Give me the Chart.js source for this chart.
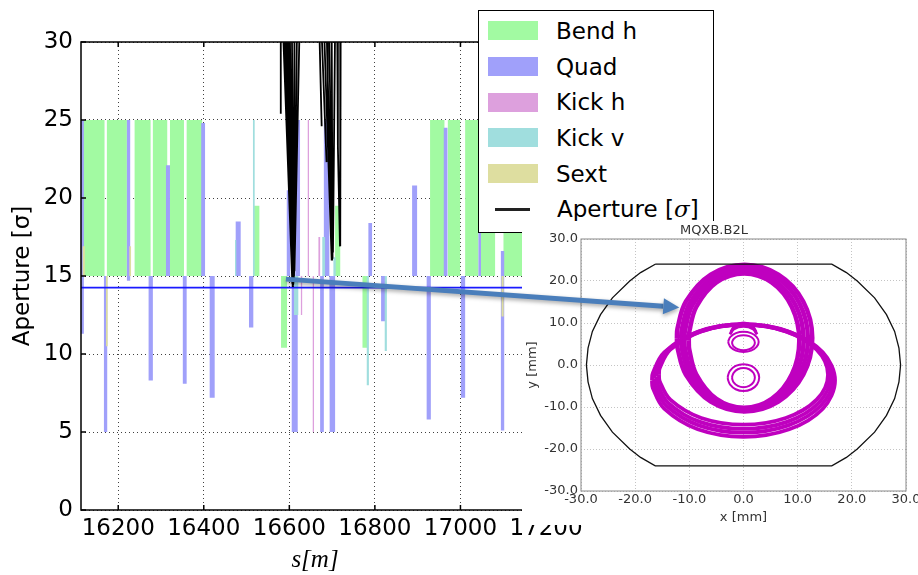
<!DOCTYPE html>
<html>
<head>
<meta charset="utf-8">
<script src="https://cdn.jsdelivr.net/npm/chart.js"></script>
<style>
  html, body { margin: 0; padding: 0; background: #fff; }
  #wrap { position: relative; width: 918px; height: 575px; overflow: hidden; font-family: "DejaVu Sans", sans-serif; }
  #main { position: absolute; left: 0; top: 0; }
  #legend { position: absolute; left: 478px; top: 10px; width: 236px; height: 223px; box-sizing: border-box;
            border: 1.5px solid #000; background: #fff; padding-top: 2px; }
  .row { height: 35.7px; display: flex; align-items: center; font-size: 23px; color: #000; white-space: nowrap; }
  .sw { width: 50px; height: 19px; margin-left: 8.5px; margin-right: 18.5px; flex: none; }
  .ln { width: 35px; height: 2.5px; background: #222; margin-left: 15.5px; margin-right: 27.5px; flex: none; }
  #insetBox { position: absolute; left: 522px; top: 221px; width: 396px; height: 304px; background: #fff; }
  #arrow { position: absolute; left: 0; top: 0; pointer-events: none; }
</style>
</head>
<body>
<div id="wrap">
  <canvas id="main" width="918" height="575"></canvas>
  <div id="legend"></div>
  <div id="insetBox"><canvas id="inset" width="396" height="304"></canvas></div>
  <canvas id="arrow" width="918" height="575"></canvas>
</div>
<script>
// axis ranges of the main plot
const sMin = 16113, sMax = 17207, sStep = 200;
const apMin = 0, apMax = 30, apStep = 5;
const baseLevel = 15;   // elements are drawn from this level up or down
const refLevel = 14.25; // horizontal blue reference line

// elements: [start s, end s, value]
const bendH = [
  [16113, 16168, 25], [16173.5, 16220.3, 25], [16238.3, 16275.7, 25], [16281, 16314.6, 25],
  [16321, 16353.7, 25], [16360, 16396, 25], [16517.5, 16530, 19.5], [16580.6, 16594.6, 10.4],
  [16707, 16719, 19.5], [16771, 16783, 10.4], [16929, 16962.6, 25], [16970.5, 16999.3, 25],
  [17011, 17042, 25], [17048, 17081, 25], [17100.6, 17190, 25]
];
const quad = [
  [16113, 16119.7, 25], [16113, 16119.7, 11.3], [16166.6, 16174.3, 5.0], [16220.3, 16228, 25],
  [16220.3, 16228, 14.7], [16271, 16281, 8.3], [16311.6, 16321, 22.1], [16351, 16360, 8.1],
  [16394, 16403, 24.8], [16413.8, 16425.5, 7.2], [16474.6, 16486.3, 18.5], [16505.7, 16515.8, 11.7],
  [16594, 16602, 20.5], [16614, 16625, 25], [16605.6, 16619.6, 5.0], [16672, 16681, 5.0],
  [16680.5, 16693, 25], [16695, 16707, 5.0], [16784.8, 16793.4, 18.4], [16814.5, 16824, 12.1],
  [16887, 16898.7, 20.8], [16921, 16930.8, 5.8], [16961, 16969.6, 24.5], [17001, 17011, 7.2],
  [17042, 17048, 25], [17094.5, 17102.3, 16.6], [17094.5, 17102.3, 5.1]
];
const kickH = [
  [16627, 16630, 12.5], [16643, 16646, 25], [16654.7, 16657.7, 5.0], [16668, 16672, 17.5]
];
const kickV = [
  [16473, 16476, 17.3], [16515, 16519, 25], [16611, 16621, 12.5], [16677, 16683.5, 17.5],
  [16703, 16708.5, 16.2], [16781, 16786, 8.0], [16823, 16828, 10.2]
];
const sext = [
  [16117, 16122, 16.9], [16171.5, 16175.5, 10.5], [16226, 16230, 16.9], [17096, 17101, 12.4]
];

// aperture traces: each stroke is a list of [s, aperture]
const apertureStrokes = [
  [[16580, 31], [16580, 25.4]],
  [[16585, 31], [16607, 14.5]],
  [[16589, 31], [16608, 14.3]],
  [[16593, 31], [16608.5, 14.3]],
  [[16597, 31], [16609, 14.4]],
  [[16601, 31], [16609.5, 14.5]],
  [[16606, 31], [16610, 14.6]],
  [[16612, 31], [16610.5, 14.8]],
  [[16618, 31], [16611, 15.0]],
  [[16624, 31], [16612, 15.3]],
  [[16670, 31], [16675.6, 24.6]],
  [[16675, 31], [16687, 22.3]],
  [[16681, 31], [16699, 16.0]],
  [[16687, 31], [16700, 16.0]],
  [[16689, 31], [16691, 24.2]],
  [[16693, 31], [16701, 16.1]],
  [[16699, 31], [16701, 16.2]],
  [[16707, 31], [16702, 16.5]],
  [[16712, 31], [16713.5, 23.3], [16718.4, 16.9]],
  [[16720, 31], [16719, 16.9]]
];

// arrow: from a point of the main plot [s, aperture] to a point of the inset [x mm, y mm]
const arrowFrom = [16592, 14.8];
const arrowTo = [-11.85, 13.7];

// inset: beam screen outline and beam envelopes, [x mm, y mm]
const screenOutline = [
  [-16.3, 24], [16.3, 24], [19, 22], [21, 20], [24.2, 16], [26.4, 12], [27.9, 8], [28.7, 4], [29, 0],
  [28.7, -4], [27.9, -8], [26.4, -12], [24.2, -16], [21, -20], [19, -22], [16.3, -24], [-16.3, -24],
  [-19, -22], [-21, -20], [-24.2, -16], [-26.4, -12], [-27.9, -8], [-28.7, -4], [-29, 0], [-28.7, 4],
  [-27.9, 8], [-26.4, 12], [-24.2, 16], [-21, 20], [-19, 22], [-16.3, 24]
];
const envV1 = [[-10.1, 5.8], [-10.01, 7.89], [-8.73, 13.8], [-5.0, 19.66], [0.1, 21.8], [5.2, 19.66], [8.93, 13.8], [10.3, 5.8],
  [8.93, -2.2], [5.2, -8.06], [0.1, -10.2], [-5.0, -8.06], [-8.73, -2.2], [-10.01, 3.71], [-10.1, 5.8]];
const envV2 = [[-10.9, 6], [-10.81, 8.15], [-9.43, 14.25], [-5.4, 20.29], [0.1, 22.5], [5.6, 20.29], [9.63, 14.25], [11.1, 6],
  [9.63, -2.25], [5.6, -8.29], [0.1, -10.5], [-5.4, -8.29], [-9.43, -2.25], [-10.81, 3.85], [-10.9, 6]];
const envV3 = [[-11.5, 6.2], [-11.4, 8.42], [-9.93, 14.7], [-5.65, 20.92], [0.2, 23.2], [6.05, 20.92], [10.33, 14.7], [11.9, 6.2],
  [10.33, -2.3], [6.05, -8.52], [0.2, -10.8], [-5.65, -8.52], [-9.93, -2.3], [-11.4, 3.98], [-11.5, 6.2]];
const envV4 = [[-12.3, 6.4], [-12.19, 8.68], [-10.63, 15.13], [-6.05, 21.51], [0.2, 23.85], [6.45, 21.51], [11.03, 15.13], [12.7, 6.4],
  [11.03, -2.33], [6.45, -8.71], [0.2, -11.05], [-6.05, -8.71], [-10.63, -2.33], [-12.19, 4.12], [-12.3, 6.4]];
const envH1 = [[-15.6, -2.3], [-15.47, -0.75], [-13.51, 3.65], [-7.8, 8.01], [0, 9.6], [7.8, 8.01], [13.51, 3.65], [15.6, -2.3],
  [13.51, -8.25], [7.8, -12.61], [0, -14.2], [-7.8, -12.61], [-13.51, -8.25], [-15.47, -3.85], [-15.6, -2.3]];
const envH2 = [[-16.05, -2.8], [-15.91, -1.18], [-13.9, 3.4], [-8.03, 7.94], [0, 9.6], [8.03, 7.94], [13.9, 3.4], [16.05, -2.8],
  [13.9, -9.0], [8.03, -13.54], [0, -15.2], [-8.03, -13.54], [-13.9, -9.0], [-15.91, -4.42], [-16.05, -2.8]];
const envH3 = [[-16.5, -3.2], [-16.36, -1.52], [-14.29, 3.25], [-8.25, 7.97], [0, 9.7], [8.25, 7.97], [14.29, 3.25], [16.5, -3.2],
  [14.29, -9.65], [8.25, -14.37], [0, -16.1], [-8.25, -14.37], [-14.29, -9.65], [-16.36, -4.88], [-16.5, -3.2]];
const envH4 = [[-16.9, -3.7], [-16.75, -1.95], [-14.64, 3.0], [-8.45, 7.9], [0, 9.7], [8.45, 7.9], [14.64, 3.0], [16.9, -3.7],
  [14.64, -10.4], [8.45, -15.3], [0, -17.1], [-8.45, -15.3], [-14.64, -10.4], [-16.75, -5.45], [-16.9, -3.7]];
const ringTopCapLow = [[-2.5, 7.3], [-1.8, 8.6], [0, 9.2], [1.8, 8.6], [2.5, 7.3]];
const ringTopCap = [[-2.3, 7.9], [-1.6, 9.3], [0, 10.0], [1.6, 9.3], [2.3, 7.9]];
const ringTopOuter = [[-2.8, 5.5], [-2.776, 5.81], [-2.42, 6.7], [-1.4, 7.58], [0, 7.9], [1.4, 7.58], [2.42, 6.7], [2.8, 5.5],
  [2.42, 4.3], [1.4, 3.42], [0, 3.1], [-1.4, 3.42], [-2.42, 4.3], [-2.776, 5.19], [-2.8, 5.5]];
const ringTopInner = [[-2.1, 5.3], [-2.082, 5.535], [-1.82, 6.2], [-1.05, 6.86], [0, 7.1], [1.05, 6.86], [1.82, 6.2], [2.1, 5.3],
  [1.82, 4.4], [1.05, 3.74], [0, 3.5], [-1.05, 3.74], [-1.82, 4.4], [-2.082, 5.065], [-2.1, 5.3]];
const ringLowOuter = [[-2.9, -3], [-2.875, -2.58], [-2.51, -1.4], [-1.45, -0.23], [0, 0.2], [1.45, -0.23], [2.51, -1.4], [2.9, -3],
  [2.51, -4.6], [1.45, -5.77], [0, -6.2], [-1.45, -5.77], [-2.51, -4.6], [-2.875, -3.42], [-2.9, -3]];
const ringLowInner = [[-2.1, -3], [-2.082, -2.7], [-1.82, -1.85], [-1.05, -1.01], [0, -0.7], [1.05, -1.01], [1.82, -1.85], [2.1, -3],
  [1.82, -4.15], [1.05, -4.99], [0, -5.3], [-1.05, -4.99], [-1.82, -4.15], [-2.082, -3.3], [-2.1, -3]];

Chart.defaults.font.family = '"DejaVu Sans", sans-serif';
Chart.defaults.color = '#000';

// closed rectangles joined along the base level; the whole outline is filled as a shape
const toBlocks = (elements) => {
  const pts = [{ x: Math.min(...elements.map(e => e[0])), y: baseLevel }];
  elements.forEach(([a, b, v]) => {
    pts.push({ x: a, y: baseLevel }, { x: a, y: v }, { x: b, y: v }, { x: b, y: baseLevel });
  });
  pts.push({ x: Math.max(...elements.map(e => e[1])), y: baseLevel });
  return pts;
};

const toStrokes = (strokes) => {
  const pts = [];
  strokes.forEach((st, i) => {
    if (i > 0) pts.push({ x: st[0][0], y: null });
    st.forEach(([x, y]) => pts.push({ x, y }));
  });
  return pts;
};

const blockSet = (label, elements, color, order) => ({
  label, data: toBlocks(elements), backgroundColor: color, borderColor: 'rgba(0,0,0,0)',
  borderWidth: 0, pointRadius: 0, fill: 'shape', order, legendType: 'patch'
});

// box around the plot and small inward ticks
const framePlugin = {
  id: 'frame',
  afterDraw(chart, args, opts) {
    const { ctx, chartArea: a, scales } = chart;
    ctx.save();
    ctx.strokeStyle = opts.color;
    ctx.lineWidth = opts.width;
    const t = opts.tick || 0;
    if (t) {
      ctx.beginPath();
      scales.x.ticks.forEach(k => {
        const px = scales.x.getPixelForValue(k.value);
        ctx.moveTo(px, a.bottom); ctx.lineTo(px, a.bottom - t);
        ctx.moveTo(px, a.top); ctx.lineTo(px, a.top + t);
      });
      scales.y.ticks.forEach(k => {
        const py = scales.y.getPixelForValue(k.value);
        ctx.moveTo(a.left, py); ctx.lineTo(a.left + t, py);
      });
      ctx.stroke();
    }
    ctx.strokeRect(a.left, a.top, a.right - a.left, a.bottom - a.top);
    ctx.restore();
  }
};

const mainChart = new Chart(document.getElementById('main'), {
  type: 'line',
  data: {
    datasets: [
      blockSet('Bend h', bendH, '#a2faa2', 6),
      blockSet('Quad', quad, '#a0a0fa', 5),
      blockSet('Kick h', kickH, '#dda0dd', 4),
      blockSet('Kick v', kickV, '#a0dede', 3),
      blockSet('Sext', sext, '#dedea0', 2),
      {
        label: '', data: [{ x: sMin, y: refLevel }, { x: sMax, y: refLevel }],
        borderColor: '#1a1aff', borderWidth: 1.8, pointRadius: 0, fill: false, order: 1
      },
      {
        label: 'Aperture [σ]', data: toStrokes(apertureStrokes), borderColor: '#000', borderWidth: 1.8,
        pointRadius: 0, fill: false, spanGaps: false, order: 0, legendType: 'line'
      }
    ]
  },
  plugins: [framePlugin],
  options: {
    responsive: false,
    animation: false,
    events: [],
    layout: { padding: { left: 0, top: 42, right: 369, bottom: 0 } },
    plugins: {
      legend: { display: false },
      tooltip: { enabled: false },
      frame: { color: '#000', width: 1.5, tick: 5 }
    },
    scales: {
      x: {
        type: 'linear', min: sMin, max: sMax, z: 1,
        ticks: { stepSize: sStep, includeBounds: false, maxRotation: 0, autoSkip: false, padding: 5,
                 font: { size: 23 }, color: '#000', callback: v => String(v) },
        grid: { color: 'rgba(0,0,0,0.75)', lineWidth: 1, drawTicks: false },
        border: { display: false, dash: [1, 3] },
        title: { display: true, text: 's[m]', font: { family: '"Liberation Serif", serif', style: 'italic', size: 25 },
                 color: '#000', padding: { top: 0, bottom: 0 } },
        afterFit: s => { s.height = 65; s.paddingLeft = 0; s.paddingRight = 0; }
      },
      y: {
        type: 'linear', min: apMin, max: apMax, z: 1,
        ticks: { stepSize: apStep, padding: 8, font: { size: 23 }, color: '#000' },
        grid: { color: 'rgba(0,0,0,0.75)', lineWidth: 1, drawTicks: false },
        border: { display: false, dash: [1, 3] },
        title: { display: true, text: 'Aperture [σ]', font: { size: 23 }, color: '#000', padding: { top: 9, bottom: 0 } },
        afterFit: s => { s.width = 81; s.paddingTop = 0; s.paddingBottom = 0; }
      }
    }
  }
});

// legend built from the datasets
const legendBox = document.getElementById('legend');
mainChart.data.datasets.filter(d => d.legendType).forEach(d => {
  const row = document.createElement('div');
  row.className = 'row';
  const mark = document.createElement('div');
  mark.className = d.legendType === 'patch' ? 'sw' : 'ln';
  if (d.legendType === 'patch') mark.style.background = d.backgroundColor;
  row.appendChild(mark);
  const txt = document.createElement('span');
  txt.innerHTML = d.label.replace('σ', '<i style="font-family:\'DejaVu Serif\',serif">σ</i>');
  row.appendChild(txt);
  legendBox.appendChild(row);
});

const envStyle = (pts, w) => ({
  data: pts.map(([x, y]) => ({ x, y })), borderColor: '#bf00bf', borderWidth: w,
  pointRadius: 0, tension: 0.35, fill: false
});
const insetFont = { size: 13, weight: 'normal' };

const insetChart = new Chart(document.getElementById('inset'), {
  type: 'line',
  data: {
    datasets: [
      { data: screenOutline.map(([x, y]) => ({ x, y })), borderColor: '#111', borderWidth: 1.3,
        pointRadius: 0, tension: 0, fill: false },
      envStyle(envV1, 4.5), envStyle(envV2, 4.5), envStyle(envV3, 4.5), envStyle(envV4, 4.5),
      envStyle(envH1, 3.8), envStyle(envH2, 3.8), envStyle(envH3, 3.8), envStyle(envH4, 3.8),
      envStyle(ringTopCapLow, 3), envStyle(ringTopCap, 3), envStyle(ringTopOuter, 2), envStyle(ringTopInner, 2),
      envStyle(ringLowOuter, 2), envStyle(ringLowInner, 2)
    ]
  },
  plugins: [framePlugin],
  options: {
    responsive: false,
    animation: false,
    events: [],
    layout: { padding: { left: 0, top: 0, right: 12, bottom: 0 } },
    plugins: {
      legend: { display: false },
      tooltip: { enabled: false },
      title: { display: true, text: 'MQXB.B2L', font: insetFont, color: '#333', padding: { top: 2, bottom: 0.4 } },
      frame: { color: '#888', width: 1 }
    },
    scales: {
      x: {
        type: 'linear', min: -30, max: 30,
        ticks: { stepSize: 10, padding: 1, maxRotation: 0, autoSkip: false, font: insetFont, color: '#333',
                 callback: v => v.toFixed(1) },
        grid: { color: '#c4c4c4', lineWidth: 1, drawTicks: false },
        border: { display: false, dash: [1, 2] },
        title: { display: true, text: 'x [mm]', font: insetFont, color: '#333', padding: { top: 0, bottom: 0 } },
        afterFit: s => { s.height = 34; s.paddingLeft = 0; s.paddingRight = 0; }
      },
      y: {
        type: 'linear', min: -30, max: 30,
        ticks: { stepSize: 10, padding: 3, font: insetFont, color: '#333', callback: v => v.toFixed(1) },
        grid: { color: '#c4c4c4', lineWidth: 1, drawTicks: false },
        border: { display: false, dash: [1, 2] },
        title: { display: true, text: 'y [mm]', font: insetFont, color: '#333', padding: { top: 3, bottom: 0 } },
        afterFit: s => { s.width = 59; s.paddingTop = 0; s.paddingBottom = 0; }
      }
    }
  }
});

// arrow linking the main plot to the inset
const drawArrow = () => {
  const box = document.getElementById('insetBox');
  const ctx = document.getElementById('arrow').getContext('2d');
  const x0 = mainChart.scales.x.getPixelForValue(arrowFrom[0]);
  const y0 = mainChart.scales.y.getPixelForValue(arrowFrom[1]);
  const x1 = box.offsetLeft + insetChart.scales.x.getPixelForValue(arrowTo[0]);
  const y1 = box.offsetTop + insetChart.scales.y.getPixelForValue(arrowTo[1]);
  const ang = Math.atan2(y1 - y0, x1 - x0);
  const headLen = 16, headHalf = 8;
  const bx = x1 - headLen * Math.cos(ang), by = y1 - headLen * Math.sin(ang);
  ctx.save();
  ctx.shadowColor = 'rgba(0,0,0,0.35)';
  ctx.shadowBlur = 4;
  ctx.shadowOffsetY = 2;
  ctx.strokeStyle = ctx.fillStyle = '#4a7ebb';
  ctx.lineWidth = 5;
  ctx.beginPath();
  ctx.moveTo(x0, y0);
  ctx.lineTo(bx, by);
  ctx.stroke();
  ctx.beginPath();
  ctx.moveTo(x1, y1);
  ctx.lineTo(bx + headHalf * Math.sin(ang), by - headHalf * Math.cos(ang));
  ctx.lineTo(bx - headHalf * Math.sin(ang), by + headHalf * Math.cos(ang));
  ctx.closePath();
  ctx.fill();
  ctx.restore();
};
drawArrow();
</script>
</body>
</html>
